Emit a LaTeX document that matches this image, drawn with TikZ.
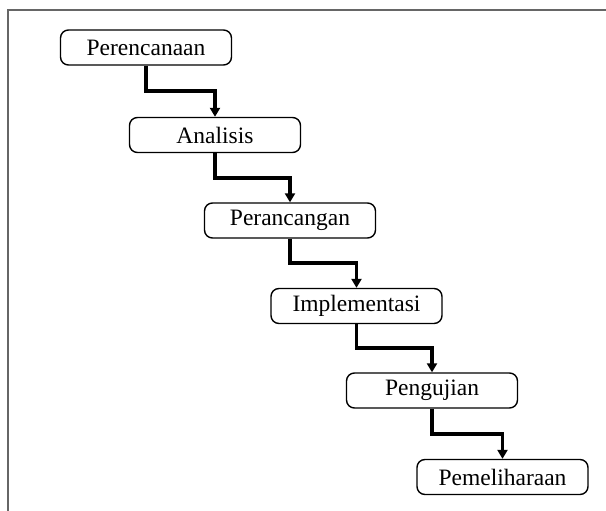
\documentclass[tikz,border=0pt]{standalone}
\usepackage{fontspec}
\setmainfont{Liberation Serif}
\usetikzlibrary{arrows.meta,calc}
\tikzset{
    stagebox/.style={draw, rounded corners=8pt, line width=1.4pt, minimum width=171pt, minimum height=35pt, inner sep=0pt, font=\fontsize{23.5}{25}\selectfont},
    flow/.style={line width=3.6pt, -{Triangle[length=9pt,width=10pt]}}
}
\begin{document}
\begin{tikzpicture}[x=1pt,y=-1pt]
    \useasboundingbox (0,0) rectangle (606,511);
    % Frame
    \draw[gray!80!black, line width=1.5pt] (8,520) -- (8,10) -- (620,10);
    
    % Stages
    \node[stagebox] (plan) at (146,47.5) {Perencanaan};
    \node[stagebox] (anal) at (215,135) {Analisis};
    \node[stagebox] (design) at (290,220.5) {Perancangan};
    \node[stagebox] (impl) at (356.5,306) {Implementasi};
    \node[stagebox] (test) at (432,390.5) {Pengujian};
    \node[stagebox] (maint) at (502.5,477) {Pemeliharaan};
    
    % Connectors
    \foreach \a/\b in {plan/anal, anal/design, design/impl, impl/test, test/maint}
        \draw[flow] (\a.south) |- ($(\a.south)!0.5!(\b.north)$) -| (\b.north);
\end{tikzpicture}
\end{document}
